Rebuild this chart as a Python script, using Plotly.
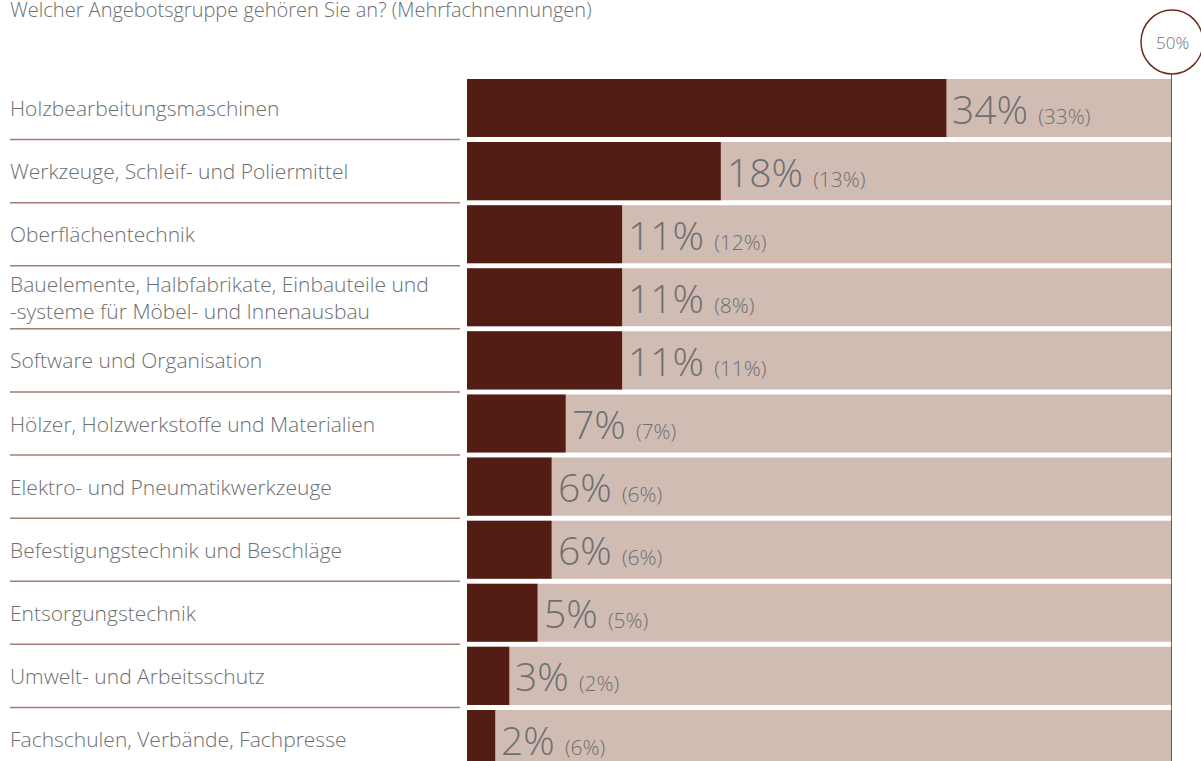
import plotly.graph_objects as go

# survey answers, current year and (previous year)
categories = [
    "Holzbearbeitungsmaschinen",
    "Werkzeuge, Schleif- und Poliermittel",
    "Oberflächentechnik",
    "Bauelemente, Halbfabrikate, Einbauteile und<br>-systeme für Möbel- und Innenausbau",
    "Software und Organisation",
    "Hölzer, Holzwerkstoffe und Materialien",
    "Elektro- und Pneumatikwerkzeuge",
    "Befestigungstechnik und Beschläge",
    "Entsorgungstechnik",
    "Umwelt- und Arbeitsschutz",
    "Fachschulen, Verbände, Fachpresse",
]
current = [34, 18, 11, 11, 11, 7, 6, 6, 5, 3, 2]
previous = [33, 13, 12, 8, 11, 7, 6, 6, 5, 2, 6]
scale_max = 50

title = "Welcher Angebotsgruppe gehören Sie an? (Mehrfachnennungen)"

W, H = 1201, 761
dark = "#531d13"
light = "#d1bcb3"
grey = "#6d6f71"
line_col = "#6e2a1c"
font = "Open Sans, Noto Sans, sans-serif"

fig = go.Figure()
fig.add_trace(go.Bar(
    y=categories, x=[scale_max] * len(categories), orientation="h",
    marker=dict(color=light, line_width=0), width=0.92, hoverinfo="skip",
))
fig.add_trace(go.Bar(
    y=categories, x=current, orientation="h",
    marker=dict(color=dark, line_width=0), width=0.92,
))

for cat, cur, prev in zip(categories, current, previous):
    fig.add_annotation(
        x=cur, y=cat, xref="x", yref="y", xanchor="left", yanchor="middle",
        xshift=4, showarrow=False,
        text=f"<span style='font-size:39px'>{cur}%&nbsp;</span>"
             f"<span style='font-size:21px'>({prev}%)</span>",
        font=dict(color=grey, family=font, weight=300),
    )
    fig.add_annotation(
        x=8 / W, y=cat, xref="paper", yref="y", xanchor="left", yanchor="middle",
        showarrow=False, text=cat, align="left",
        font=dict(color=grey, family=font, size=21, weight=300),
    )

# thin separators between the row labels
for i in range(len(categories) - 1):
    fig.add_shape(type="line", xref="paper", yref="y",
                  x0=10 / W, x1=460 / W, y0=i + 0.5, y1=i + 0.5,
                  line=dict(color="#a57c72", width=1.5))

# 50% marker: vertical line + circle
fig.add_shape(type="line", xref="x", yref="paper",
              x0=scale_max, x1=scale_max, y0=0, y1=1 - 74 / H,
              line=dict(color=line_col, width=1.5))
fig.add_shape(type="circle", xref="paper", yref="paper",
              x0=1141 / W, x1=1203 / W, y0=1 - 74 / H, y1=1 - 10 / H,
              line=dict(color=line_col, width=1.5), fillcolor="white")
fig.add_annotation(x=1172 / W, y=1 - 43 / H, xref="paper", yref="paper",
                   xanchor="center", yanchor="middle",
                   showarrow=False, text=f"{scale_max}%",
                   font=dict(color=grey, family=font, size=17, weight=300))

fig.add_annotation(x=8 / W, y=1 - 9 / H, xref="paper", yref="paper",
                   xanchor="left", yanchor="middle", showarrow=False,
                   text=title, font=dict(color=grey, family=font, size=20, weight=300))

pitch = 63.1
top = -108 / pitch
fig.update_layout(
    width=W, height=H, margin=dict(l=0, r=0, t=0, b=0),
    barmode="overlay", showlegend=False,
    plot_bgcolor="white", paper_bgcolor="white",
    xaxis=dict(domain=[467 / W, 1172 / W], range=[0, scale_max], visible=False),
    yaxis=dict(range=[top + H / pitch, top], visible=False),
)

fig.write_html("out.html", config={"displayModeBar": False},
               post_script="document.body.style.margin='0';")
